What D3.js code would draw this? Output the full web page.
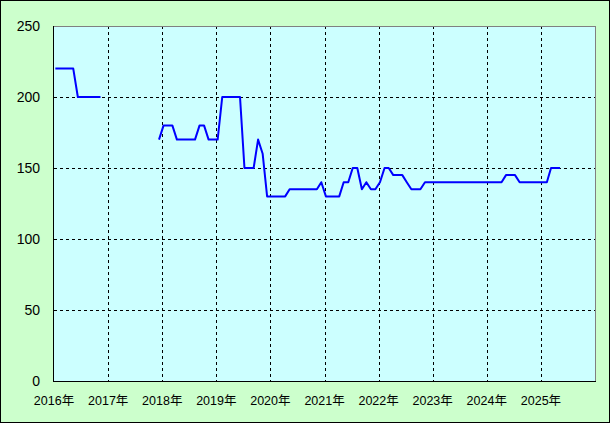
<!DOCTYPE html>
<html>
<head>
<meta charset="utf-8">
<script src="https://cdn.jsdelivr.net/npm/d3@7"></script>
<style>
  html, body { margin: 0; padding: 0; background: #ffffff; }
  svg { display: block; }
  text { font-family: "Liberation Sans", Arial, "Noto Sans CJK JP", sans-serif; fill: #000; }
</style>
</head>
<body>
<svg id="chart" width="610" height="424"></svg>
<script>
// ---- data (monthly, starting Jan 2016; null = no data) ----
const startYear = 2016;
const values2016 = [220, 220, 220, 220, 220, 200, 200, 200, 200, 200, 200, null];
const values2017 = [null, null, null, null, null, null, null, null, null, null, null, 170];
const values2018 = [180, 180, 180, 170, 170, 170, 170, 170, 180, 180, 170, 170];
const values2019 = [170, 200, 200, 200, 200, 200, 150, 150, 150, 170, 160, 130];
const values2020 = [130, 130, 130, 130, 135, 135, 135, 135, 135, 135, 135, 140];
const values2021 = [130, 130, 130, 130, 140, 140, 150, 150, 135, 140, 135, 135];
const values2022 = [140, 150, 150, 145, 145, 145, 140, 135, 135, 135, 140, 140];
const values2023 = [140, 140, 140, 140, 140, 140, 140, 140, 140, 140, 140, 140];
const values2024 = [140, 140, 140, 140, 145, 145, 145, 140, 140, 140, 140, 140];
const values2025 = [140, 140, 150, 150, 150];
const yTicks = [0, 50, 100, 150, 200, 250];
const xYears = [2016, 2017, 2018, 2019, 2020, 2021, 2022, 2023, 2024, 2025];
const yearSuffix = "年";

const allValues = [].concat(values2016, values2017, values2018, values2019, values2020,
  values2021, values2022, values2023, values2024, values2025);
const data = allValues.map((v, i) => ({
  date: new Date(startYear + Math.floor(i / 12), i % 12, 10),
  value: v
}));

// ---- layout ----
const svg = d3.select("#chart");
const W = 610, H = 424;
const plot = { left: 54, top: 26, right: 595, bottom: 381 };

svg.append("rect")
  .attr("x", 0.5).attr("y", 0.5).attr("width", 609).attr("height", 422)
  .attr("fill", "#ccffcc").attr("stroke", "#000").attr("stroke-width", 1);

const x = d3.scaleTime()
  .domain([new Date(2016, 0, 1), new Date(2026, 0, 1)])
  .range([plot.left, plot.right]);
const y = d3.scaleLinear().domain([0, 250]).range([plot.bottom, plot.top]);

// plot background
svg.append("rect")
  .attr("x", plot.left).attr("y", plot.top)
  .attr("width", plot.right - plot.left).attr("height", plot.bottom - plot.top)
  .attr("fill", "#ccffff");

// grid lines
const grid = svg.append("g").attr("stroke", "#000").attr("stroke-width", 1)
  .attr("stroke-dasharray", "3,3").attr("shape-rendering", "crispEdges");
grid.selectAll("line.h").data(yTicks.filter(t => t > 0 && t < 250)).join("line")
  .attr("x1", plot.left).attr("x2", plot.right)
  .attr("y1", d => Math.round(y(d)) + 0.5).attr("y2", d => Math.round(y(d)) + 0.5);
grid.selectAll("line.v").data(xYears.filter(yr => yr > 2016)).join("line")
  .attr("x1", d => Math.round(x(new Date(d, 0, 1))) + 0.5)
  .attr("x2", d => Math.round(x(new Date(d, 0, 1))) + 0.5)
  .attr("y1", plot.top).attr("y2", plot.bottom);

// frame: top/right gray, left/bottom black
svg.append("line").attr("x1", plot.left).attr("x2", plot.right + 0.5)
  .attr("y1", plot.top + 0.5).attr("y2", plot.top + 0.5)
  .attr("stroke", "#808080").attr("stroke-width", 1);
svg.append("line").attr("x1", plot.right + 0.5).attr("x2", plot.right + 0.5)
  .attr("y1", plot.top).attr("y2", plot.bottom)
  .attr("stroke", "#808080").attr("stroke-width", 1);

// data line
const line = d3.line()
  .defined(d => d.value != null)
  .x(d => x(d.date))
  .y(d => y(d.value));
svg.append("path").datum(data)
  .attr("d", line)
  .attr("fill", "none")
  .attr("stroke", "#0000ff")
  .attr("stroke-width", 2)
  .attr("stroke-linejoin", "round");

// axes lines
svg.append("line").attr("x1", plot.left - 0.5).attr("x2", plot.left - 0.5)
  .attr("y1", plot.top).attr("y2", plot.bottom + 1)
  .attr("stroke", "#000").attr("stroke-width", 1);
svg.append("line").attr("x1", plot.left - 1).attr("x2", plot.right + 1)
  .attr("y1", plot.bottom + 0.5).attr("y2", plot.bottom + 0.5)
  .attr("stroke", "#000").attr("stroke-width", 1);

// y labels
svg.append("g").selectAll("text").data(yTicks).join("text")
  .attr("x", 40).attr("y", d => y(d))
  .attr("dy", "0.36em")
  .attr("text-anchor", "end")
  .attr("font-size", 14)
  .text(d => d);

// x labels
svg.append("g").selectAll("text").data(xYears).join("text")
  .attr("x", d => x(new Date(d, 0, 1)))
  .attr("y", 405)
  .attr("text-anchor", "middle")
  .attr("font-size", 12.5)
  .text(d => d + yearSuffix);
</script>
</body>
</html>
